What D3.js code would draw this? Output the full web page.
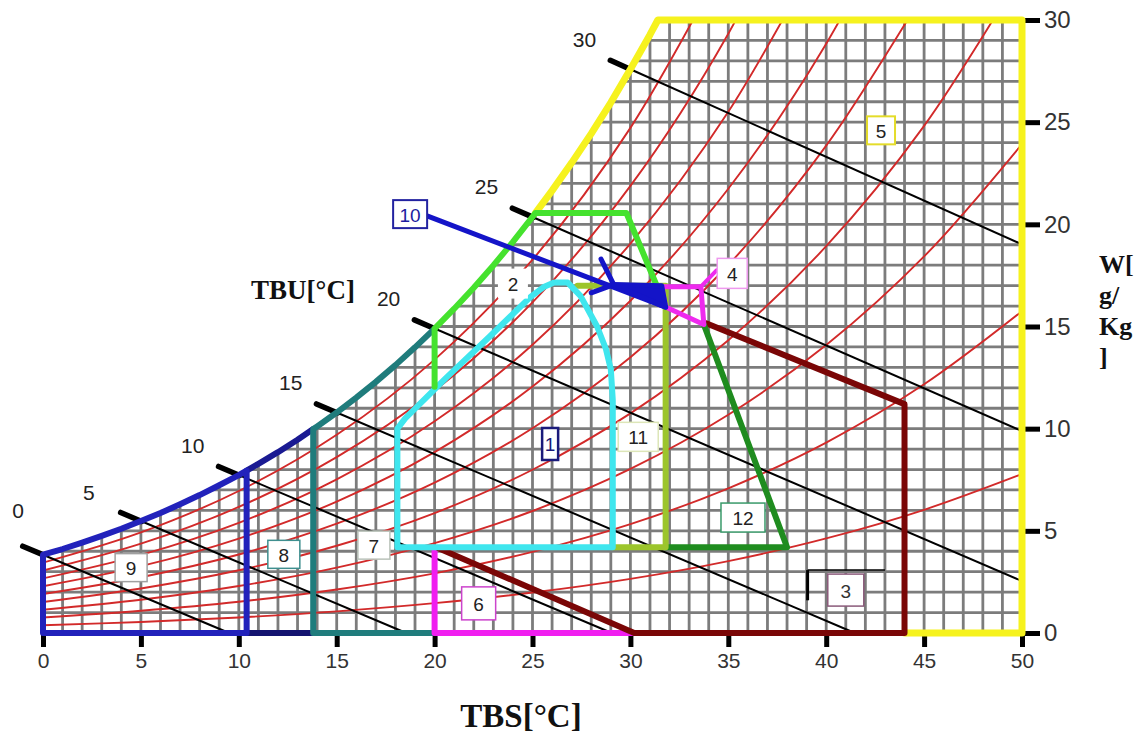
<!DOCTYPE html>
<html><head><meta charset="utf-8">
<script src="https://cdn.jsdelivr.net/npm/d3@7"></script>
<style>
html,body{margin:0;padding:0;background:#fff;}
svg{display:block;}
</style></head><body>
<svg id="chart" width="1145" height="736"></svg>
<script>
// ================= DATA =================
const tempTicks = [0,5,10,15,20,25,30,35,40,45,50];
const humTicks  = [0,5,10,15,20,25,30];

// saturation curve (100% RH), g/kg at each °C
const satTemps = [0,1,2,3,4,5,6,7,8,9,10,11,12,13,14,15,16,17,18,19,20,21,22,23,24,25,26,27,28,29,30,31,32];
const satHum   = [3.83,4.11,4.42,4.75,5.10,5.48,5.87,6.30,6.75,7.23,7.73,8.28,8.85,9.46,10.11,10.79,11.52,12.29,13.11,13.98,14.90,15.87,16.90,17.99,19.14,20.36,21.65,23.01,24.44,25.96,27.59,29.28,31.07];

// relative humidity curves 10%..90% (g/kg at rhTemps)
const rhTemps = [0,5,10,15,20,25,30,35,40,45,50];
const rh10 = [0.38,0.54,0.76,1.06,1.46,1.98,2.65,3.52,4.63,6.03,7.78];
const rh20 = [0.76,1.09,1.53,2.13,2.92,3.97,5.33,7.08,9.32,12.17,15.75];
const rh30 = [1.14,1.63,2.30,3.20,4.40,5.97,8.03,10.68,14.09,18.43,23.93];
const rh40 = [1.52,2.18,3.07,4.27,5.87,7.99,10.75,14.33,18.93,24.82,32.33];
const rh50 = [1.91,2.73,3.84,5.35,7.36,10.02,13.49,18.01,23.85,31.34];
const rh60 = [2.29,3.27,4.62,6.43,8.85,12.06,16.26,21.74,28.84,37.99];
const rh70 = [2.67,3.82,5.39,7.52,10.36,14.11,19.06,25.51,33.90];
const rh80 = [3.06,4.37,6.17,8.61,11.86,16.18,21.88,29.33,39.05];
const rh90 = [3.44,4.92,6.95,9.70,13.38,18.27,24.72,33.19];
const rhCurves = [rh10,rh20,rh30,rh40,rh50,rh60,rh70,rh80,rh90];

// wet-bulb lines (TBU), start on saturation, end points
const wbTemps = [0,5,10,15,20,25,30];
const wbEndT  = [9.51,18.55,29.05,41.46,50,50,50];
const wbEndW  = [0,0,0,0,2.54,9.88,19.02];

// zone outlines (°C, g/kg)
const zone1 = [[18.1,4.2],[18.1,10.0],[18.5,10.5],[20.6,12.5],[22.8,14.5],[24.9,16.45],[25.6,16.95],[26.1,17.15],[26.8,17.15],[27.45,16.5],[28.3,15.0],[28.75,13.9],[29.0,12.9],[29.1,11.4],[29.1,4.2]];
const zone2Start = [[20,12.05]];
const zone2End = [[29.8,20.55],[31.8,15.95]];
const zone2SatTop = 20.55;
const zone3 = [[20.2,4.15],[30.2,0],[44,0],[44,11.2],[33.9,15.15]];
const zone4 = [[31.6,16.95],[33.6,16.95],[33.75,15.1],[31.8,15.95]];
const zone4Pointer = [[33.6,16.95],[34.4,17.75]];
const zone5End = [[50,30],[50,0],[44,0]];
const zone6 = [[20,4.05],[20,0],[30.2,0]];
const zone7Left = 13.8, zone7Right = 20;
const zone8Left = 10.4;
const zone9Left = 0;
const zone10Arrow = [[19.65,20.4],[31.8,15.95]];
const zone10Head = [[28.5,18.3],[29.15,17.05],[28.0,16.65]];
const zone10Patch = [[29.15,17.05],[31.6,17.0],[31.8,15.95]];
const zone11 = [[27.3,17.0],[31.8,17.0],[31.8,4.2],[29.1,4.2]];
const zone12 = [[31.8,4.2],[38.0,4.2],[33.75,15.1]];
const zone3Mark = [[39.05,1.6],[39.05,3.08],[43.0,3.08]];

// zone labels
const zoneIds    = ["1","2","3","4","5","6","7","8","9","10","11","12"];
const zoneLabelT = [25.9,24.0,41.0,35.2,42.8,22.25,16.9,12.3,4.5,18.75,30.4,35.75];
const zoneLabelW = [9.25,17.1,2.1,17.6,24.6,1.45,4.3,3.85,3.2,20.5,9.6,5.65];

// ================= LAYOUT / STYLE =================
const svg = d3.select("#chart");
const x = d3.scaleLinear().domain([0,50]).range([43,1022]);
const y = d3.scaleLinear().domain([0,30]).range([633,20]);
const line = d3.line().x(d=>x(d[0])).y(d=>y(d[1]));
const sans = "Arial, 'Liberation Sans', sans-serif";
const serif = "'Times New Roman', 'Liberation Serif', serif";

function satAt(t){
  let i = Math.max(0, Math.min(Math.floor(t), satTemps.length-2));
  const f = t - satTemps[i];
  return satHum[i] + f*(satHum[i+1]-satHum[i]);
}
function satTempFor(w){
  for(let i=0;i<satHum.length-1;i++){
    if(satHum[i]<=w && w<=satHum[i+1]) return satTemps[i] + (w-satHum[i])/(satHum[i+1]-satHum[i]);
  }
  return satTemps[satTemps.length-1];
}
function satSeg(t1,t2){
  const pts=[[t1,satAt(t1)]];
  satTemps.forEach((t,i)=>{ if(t>t1 && t<t2) pts.push([t,satHum[i]]); });
  pts.push([t2,satAt(t2)]);
  return pts;
}
const tTop = satTempFor(30);
const t2Top = satTempFor(zone2SatTop);

// clip region (below saturation, inside 0..50 x 0..30)
const clipPts = [[0,0],[50,0],[50,30],[tTop,30]].concat(satSeg(0,tTop).reverse());
svg.append("defs").append("clipPath").attr("id","psy")
  .append("path").attr("d", line(clipPts)+"Z");

const plot = svg.append("g").attr("clip-path","url(#psy)");
// grid
const gridT = d3.range(0,51,1), gridW = d3.range(0,31,1);
plot.selectAll(".gv").data(gridT).join("line")
  .attr("x1",d=>x(d)).attr("x2",d=>x(d)).attr("y1",y(0)).attr("y2",y(30))
  .attr("stroke","#7c7c7c").attr("stroke-width",2.8);
plot.selectAll(".gh").data(gridW).join("line")
  .attr("y1",d=>y(d)).attr("y2",d=>y(d)).attr("x1",x(0)).attr("x2",x(50))
  .attr("stroke","#7c7c7c").attr("stroke-width",2.8);
// RH curves
const rhLine = d3.line().x(d=>x(d[0])).y(d=>y(d[1])).curve(d3.curveCatmullRom.alpha(0.5));
plot.selectAll(".rh").data(rhCurves).join("path")
  .attr("d",c=>rhLine(c.map((w,i)=>[rhTemps[i],w])))
  .attr("fill","none").attr("stroke","#d22a2a").attr("stroke-width",1.9);

// wet-bulb lines
const wbG = svg.append("g");
wbTemps.forEach((t,i)=>{
  const s=[x(t),y(satAt(t))], e=[x(wbEndT[i]),y(wbEndW[i])];
  wbG.append("line").attr("x1",s[0]).attr("y1",s[1]).attr("x2",e[0]).attr("y2",e[1])
    .attr("stroke","#000").attr("stroke-width",2);
  const dx=e[0]-s[0], dy=e[1]-s[1], L=Math.hypot(dx,dy), ux=dx/L, uy=dy/L;
  wbG.append("line").attr("x1",s[0]-ux*22).attr("y1",s[1]-uy*22).attr("x2",s[0]+ux*1).attr("y2",s[1]+uy*1)
    .attr("stroke","#000").attr("stroke-width",5.5).attr("stroke-linecap","round");
  const off = t===0 ? [-25,-44] : (t===5 ? [-52,-29] : [-46,-30]);
  wbG.append("text").attr("x",s[0]+off[0]).attr("y",s[1]+off[1])
    .attr("text-anchor","middle").attr("dominant-baseline","central")
    .attr("font-family",sans).attr("font-size",21).attr("fill","#222").text(t);
});

// axes
const gx = svg.append("g").attr("transform",`translate(0,${y(0)})`)
  .call(d3.axisBottom(x).tickValues(tempTicks).tickSize(14).tickPadding(6));
gx.select(".domain").remove();
gx.selectAll(".tick line").attr("stroke","#000").attr("stroke-width",5);
gx.selectAll(".tick text").attr("font-family",sans).attr("font-size",21).attr("fill","#333");
const gy = svg.append("g").attr("transform",`translate(${x(50)},0)`)
  .call(d3.axisRight(y).tickValues(humTicks).tickSize(18).tickPadding(4));
gy.select(".domain").remove();
gy.selectAll(".tick line").attr("stroke","#000").attr("stroke-width",5);
gy.selectAll(".tick text").attr("font-family",sans).attr("font-size",24).attr("fill","#333");

// zones
const zg = svg.append("g").attr("fill","none").attr("stroke-linejoin","round").attr("stroke-linecap","round");
function draw(pts,color,w,closed){
  zg.append("path").attr("d",line(pts)+(closed?"Z":"")).attr("stroke",color).attr("stroke-width",w).attr("fill","none");
}
// 5 yellow
draw(satSeg(t2Top,tTop).concat(zone5End),"#f6f21e",7);
// 8 navy
draw([[zone7Left,0],[zone8Left,0]],"#141470",6);
draw(satSeg(zone8Left,zone7Left),"#1a1a92",6);
// 9 blue
draw([[zone8Left,0],[zone9Left,0]].concat(satSeg(zone9Left,zone8Left)),"#2222bb",6,true);
// 7 teal
draw([[zone7Right,0],[zone7Left,0]].concat(satSeg(zone7Left,zone7Right)),"#1f7c7c",6);
// 6 magenta
draw(zone6,"#f01ef0",6);
// 3 maroon
draw(zone3,"#7a0606",6);
// 12 dark green
draw(zone12,"#1f8c1f",6);
// 11 olive
draw(zone11,"#9cc52c",6);
// 1 cyan
draw(zone1,"#3fe6ee",6,true);
// 2 green
draw(zone2Start.concat(satSeg(zone7Right,t2Top)).concat([[t2Top,zone2SatTop]]).concat(zone2End),"#45e22e",6);
// 4 magenta
draw(zone4,"#ee2aee",5,true);
draw(zone4Pointer,"#ee2aee",4);
// 10 blue
draw(zone10Arrow,"#1414c8",5);
draw(zone10Head,"#1414c8",5);
zg.append("path").attr("d",line(zone10Patch)+"Z").attr("fill","#1414c8").attr("stroke","#1414c8").attr("stroke-width",5);
// mark in zone 3
svg.append("line").attr("x1",x(zone3Mark[0][0])).attr("y1",y(zone3Mark[0][1])).attr("x2",x(zone3Mark[1][0])).attr("y2",y(zone3Mark[1][1]))
  .attr("stroke","#000").attr("stroke-width",3);
svg.append("line").attr("x1",x(zone3Mark[1][0])).attr("y1",y(zone3Mark[1][1])).attr("x2",x(zone3Mark[2][0])).attr("y2",y(zone3Mark[2][1]))
  .attr("stroke","#000").attr("stroke-width",1.5);

// zone labels
const boxStyle = {
  "1":{w:16,h:32,s:"#1a1a7a",sw:2.5,c:"#1a1a7a"},
  "2":{w:30,h:30,s:"none",sw:0,c:"#222"},
  "3":{w:36,h:32,s:"#8a5a7a",sw:1.5,c:"#333"},
  "4":{w:30,h:30,s:"#ee99ee",sw:1.5,c:"#222"},
  "5":{w:28,h:28,s:"#e4dc2a",sw:2,c:"#222"},
  "6":{w:34,h:33,s:"#cc44cc",sw:1.5,c:"#222"},
  "7":{w:32,h:28,s:"#b9c2b9",sw:1.5,c:"#222"},
  "8":{w:32,h:28,s:"#3f8f8f",sw:1.5,c:"#222"},
  "9":{w:32,h:28,s:"#a0a0a0",sw:1.5,c:"#222"},
  "10":{w:34,h:28,s:"#2222a0",sw:2,c:"#1c1ca0"},
  "11":{w:40,h:29,s:"#dde6b8",sw:1.5,c:"#222"},
  "12":{w:44,h:29,s:"#3a9a6a",sw:1.5,c:"#222"}
};
const lg = svg.append("g");
zoneIds.forEach((id,i)=>{
  const st = boxStyle[id], cx=x(zoneLabelT[i]), cy=y(zoneLabelW[i]);
  lg.append("rect").attr("x",cx-st.w/2).attr("y",cy-st.h/2).attr("width",st.w).attr("height",st.h)
    .attr("fill","#fff").attr("stroke",st.s).attr("stroke-width",st.sw);
  lg.append("text").attr("x",cx).attr("y",cy+1).attr("text-anchor","middle").attr("dominant-baseline","central")
    .attr("font-family",sans).attr("font-size",19).attr("fill",st.c).text(id);
});

// titles
svg.append("text").attr("x",521).attr("y",727).attr("text-anchor","middle")
  .attr("font-family",serif).attr("font-weight","bold").attr("font-size",33).attr("fill","#111").text("TBS[°C]");
svg.append("text").attr("x",303).attr("y",299).attr("text-anchor","middle")
  .attr("font-family",serif).attr("font-weight","bold").attr("font-size",27).attr("fill","#111").text("TBU[°C]");
const wLines = ["W[","g/","Kg","]"];
wLines.forEach((t,i)=>{
  svg.append("text").attr("x",1099).attr("y",273+i*31)
    .attr("font-family",serif).attr("font-weight","bold").attr("font-size",26).attr("fill","#111").text(t);
});
</script>
</body></html>
